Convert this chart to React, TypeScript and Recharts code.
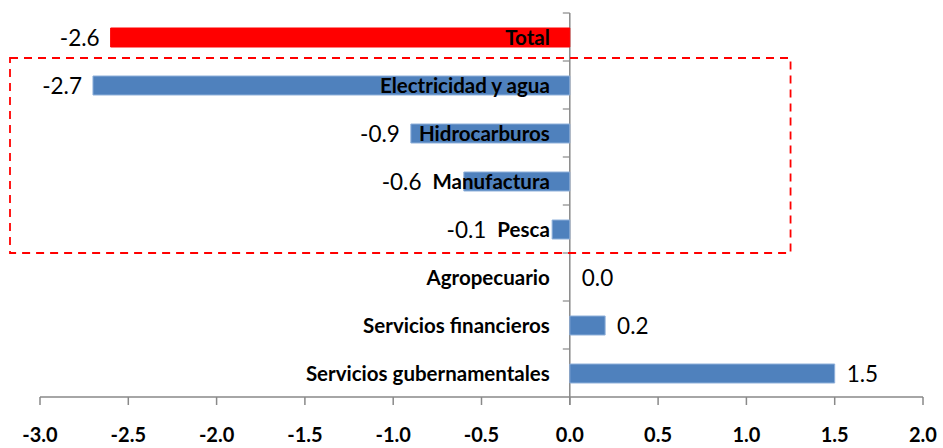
import React from "react";
import { BarChart, Bar, XAxis, YAxis, Cell, Customized } from "recharts";

const categories = [
  "Total",
  "Electricidad y agua",
  "Hidrocarburos",
  "Manufactura",
  "Pesca",
  "Agropecuario",
  "Servicios financieros",
  "Servicios gubernamentales",
];
const values = [-2.6, -2.7, -0.9, -0.6, -0.1, 0.0, 0.2, 1.5];
const redCategories = ["Total"];
const boxedCategories = ["Electricidad y agua", "Hidrocarburos", "Manufactura", "Pesca"];
const xTicks = [-3, -2.5, -2, -1.5, -1, -0.5, 0, 0.5, 1, 1.5, 2];

const W = 943;
const H = 448;
const MARGIN = { top: 13, right: 20, bottom: 0, left: 39 };
const Y_AXIS_W = 1;
const X_AXIS_H = 51;
const X_MIN = -3;
const X_MAX = 2;
const FONT = "Lato, 'Open Sans', sans-serif";
const NAME_SIZE = 20.5;
const VALUE_SIZE = 22.5;
const AXIS = "#898989";
const BLUE = "#4F81BD";
const RED = "#FF0000";

const plotLeft = MARGIN.left + Y_AXIS_W;
const plotW = W - plotLeft - MARGIN.right;
const plotH = H - MARGIN.top - MARGIN.bottom - X_AXIS_H;
const rowH = plotH / categories.length;
// same linear mapping the number axis uses (fixed domain, fixed margins)
const xPos = (v: number) => plotLeft + ((v - X_MIN) / (X_MAX - X_MIN)) * plotW;

const data = categories.map((name, i) => ({ name, value: values[i] }));

let ctx: CanvasRenderingContext2D | null = null;
function textWidth(text: string, font: string) {
  if (!ctx) ctx = document.createElement("canvas").getContext("2d");
  if (!ctx) return text.length * 10;
  ctx.font = font;
  return ctx.measureText(text).width;
}

// category name next to the zero line + the value label at the bar end
function CategoryTick(props: any) {
  const { y, payload } = props;
  const name: string = payload.value;
  const value = values[categories.indexOf(name)];
  const zero = xPos(0);
  const end = xPos(value);
  const nameRight = zero - 20;
  const nameW = textWidth(name, `bold ${NAME_SIZE}px Lato`);
  const label = value.toFixed(1);
  const neg = value < 0;
  const labelX = neg ? Math.min(end, nameRight - nameW) - 11 : end + 12;
  return (
    <g>
      <text x={nameRight} y={y} textAnchor="end" dominantBaseline="central" fontSize={NAME_SIZE} fontWeight="bold" fill="#000" fontFamily={FONT}>
        {name}
      </text>
      <text x={labelX} y={y} textAnchor={neg ? "end" : "start"} dominantBaseline="central" fontSize={VALUE_SIZE} fill="#000" fontFamily={FONT}>
        {label}
      </text>
    </g>
  );
}

function Decorations() {
  const zeroX = xPos(0);
  const first = categories.indexOf(boxedCategories[0]);
  const last = categories.indexOf(boxedCategories[boxedCategories.length - 1]);
  return (
    <g>
      {categories.map((_, i) => (
        <line key={i} x1={zeroX - 7} x2={zeroX} y1={MARGIN.top + i * rowH} y2={MARGIN.top + i * rowH} stroke={AXIS} strokeWidth={1.2} />
      ))}
      <line x1={zeroX} x2={zeroX} y1={MARGIN.top} y2={MARGIN.top + plotH + 8} stroke={AXIS} strokeWidth={1.5} />
      <rect
        x={10}
        y={MARGIN.top + first * rowH - 3}
        width={xPos(1.25) - 10}
        height={(last - first + 1) * rowH + 3}
        fill="none"
        stroke={RED}
        strokeWidth={1.8}
        strokeDasharray="8 6"
      />
    </g>
  );
}

export default function App() {
  return (
    <div style={{ width: W, height: H, fontFamily: FONT }}>
      <style>{"body{margin:0}"}</style>
      <BarChart width={W} height={H} data={data} layout="vertical" margin={MARGIN}>
        <XAxis
          type="number"
          domain={[X_MIN, X_MAX]}
          ticks={xTicks}
          interval={0}
          allowDataOverflow
          height={X_AXIS_H}
          tickFormatter={(v: number) => v.toFixed(1)}
          tick={{ fontSize: 20, fontWeight: "bold", fill: "#000", fontFamily: FONT }}
          tickSize={8}
          tickMargin={23}
          stroke={AXIS}
          axisLine={{ stroke: AXIS, strokeWidth: 1.5 }}
          tickLine={{ stroke: AXIS, strokeWidth: 1.5 }}
        />
        <YAxis
          type="category"
          dataKey="name"
          width={Y_AXIS_W}
          axisLine={false}
          tickLine={false}
          interval={0}
          tick={(p: any) => <CategoryTick {...p} />}
        />
        <Bar dataKey="value" barSize={19} isAnimationActive={false}>
          {data.map((d) => (
            <Cell
              key={d.name}
              fill={redCategories.includes(d.name) ? RED : BLUE}
              stroke={redCategories.includes(d.name) ? RED : "#8FB0DA"}
              strokeWidth={1}
            />
          ))}
        </Bar>
        <Customized component={Decorations} />
      </BarChart>
    </div>
  );
}
